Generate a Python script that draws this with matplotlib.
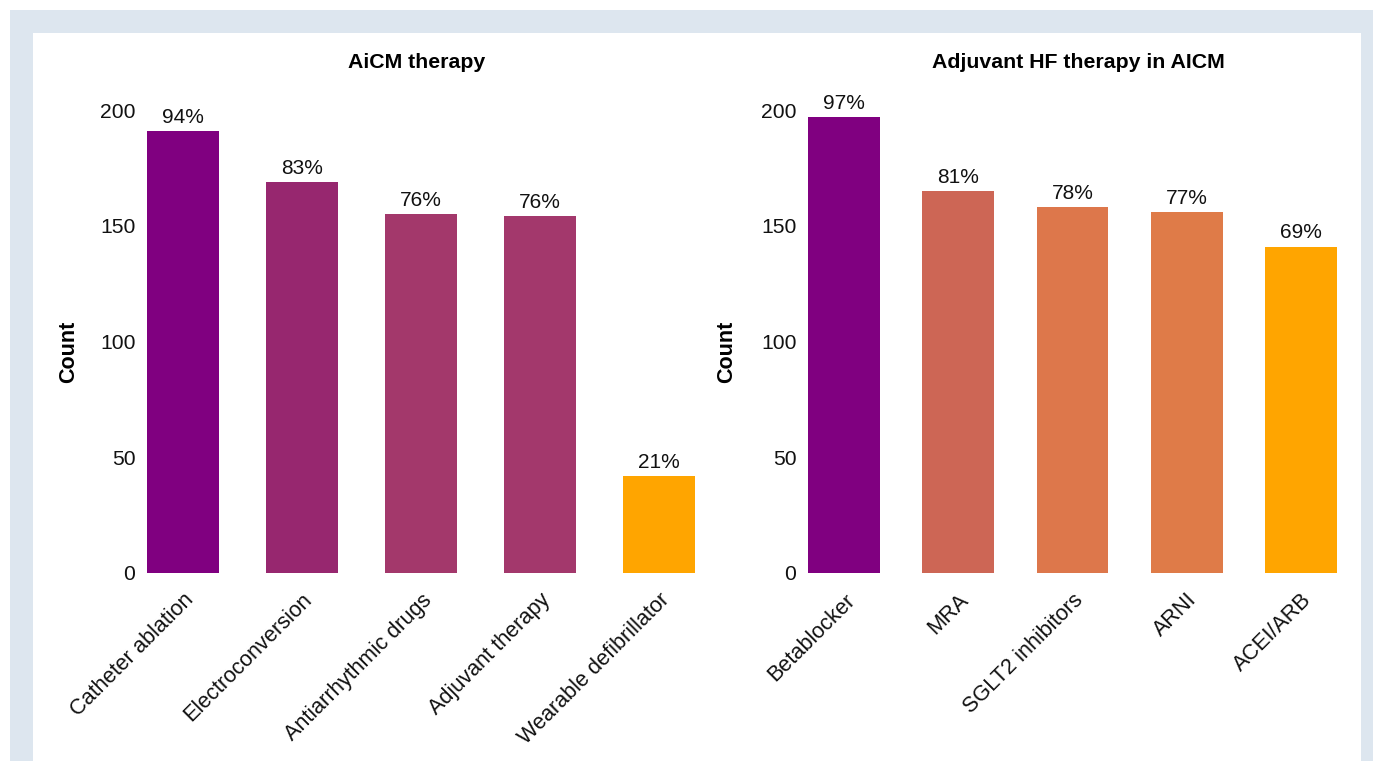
import matplotlib
matplotlib.use("Agg")
import matplotlib.pyplot as plt
from matplotlib.patches import Rectangle

plt.rcParams['font.family'] = ['Liberation Sans', 'DejaVu Sans']

# ---- data ----
left_title = "AiCM therapy"
left_categories = ["Catheter ablation", "Electroconversion", "Antiarrhythmic drugs",
                   "Adjuvant therapy", "Wearable defibrillator"]
left_counts = [191, 169, 155, 154, 42]
left_pct_labels = ["94%", "83%", "76%", "76%", "21%"]
left_colors = ["#800080", "#97276f", "#a3386b", "#a3386c", "#ffa500"]

right_title = "Adjuvant HF therapy in AICM"
right_categories = ["Betablocker", "MRA", "SGLT2 inhibitors", "ARNI", "ACEI/ARB"]
right_counts = [197, 165, 158, 156, 141]
right_pct_labels = ["97%", "81%", "78%", "77%", "69%"]
right_colors = ["#800080", "#cd6655", "#dd774b", "#df7b48", "#ffa500"]

y_ticks = [0, 50, 100, 150, 200]

W, H = 1373, 761
fig = plt.figure(figsize=(W / 100, H / 100), dpi=100)
fig.patch.set_facecolor("white")

# background frame
fig.patches.append(Rectangle((10 / W, 0), (W - 10) / W, (H - 10) / H,
                             transform=fig.transFigure, facecolor="#dde6ef",
                             edgecolor="none", zorder=-2))
fig.patches.append(Rectangle((33 / W, 0), (1361 - 33) / W, (H - 33) / H,
                             transform=fig.transFigure, facecolor="white",
                             edgecolor="none", zorder=-1))

ymax = 205
y0_px = 573
px_per_unit = (573 - 110) / 200.0
top_px = y0_px - ymax * px_per_unit


def make_axes(x0, x1):
    return fig.add_axes([x0 / W, (H - y0_px) / H, (x1 - x0) / W, (y0_px - top_px) / H])


def draw(ax, cats, counts, pcts, colors, title, width, xl, ylabel_x, title_x):
    xs = list(range(len(cats)))
    bars = ax.bar(xs, counts, width=width, color=colors, zorder=2)
    for b, t in zip(bars, pcts):
        ax.annotate(t, (b.get_x() + b.get_width() / 2, b.get_height()),
                    xytext=(0, 3), textcoords="offset points",
                    ha="center", va="bottom", fontsize=15, color="#111111")
    ax.set_xlim(-xl, len(cats) - 1 + xl)
    ax.set_ylim(0, ymax)
    ax.set_yticks(y_ticks)
    ax.set_xticks(xs)
    ax.set_xticklabels(cats, rotation=45, ha="right", rotation_mode="anchor",
                       fontsize=15.6, color="#111111")
    ax.tick_params(axis="both", length=0, colors="#111111")
    ax.tick_params(axis="y", labelsize=15.2, pad=4)
    ax.tick_params(axis="x", pad=12)
    for s in ax.spines.values():
        s.set_visible(False)
    ax.set_ylabel("Count", fontsize=15.5, fontweight="bold")
    ax.yaxis.set_label_coords(ylabel_x, 0.465)
    ax.set_title(title, fontsize=15.3, fontweight="bold", pad=22, x=title_x)
    ax.set_facecolor("none")


ax1 = make_axes(141, 701)
draw(ax1, left_categories, left_counts, left_pct_labels, left_colors, left_title,
     0.605, 0.35, (79 - 141) / 560, (417 - 141) / 560)

ax2 = make_axes(802, 1343)
draw(ax2, right_categories, right_counts, right_pct_labels, right_colors, right_title,
     0.63, 0.37, (737 - 802) / 541, (1078 - 802) / 541)

fig.savefig("out.png", dpi=100)
